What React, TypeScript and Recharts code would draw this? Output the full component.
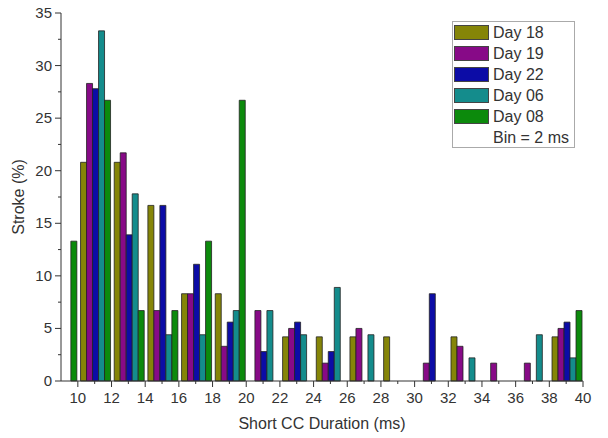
import React from 'react';
import { BarChart, Bar, XAxis, YAxis, Legend, Label } from 'recharts';

// bin centres (ms), bin width = 2 ms
const bins = [9, 11, 13, 15, 17, 19, 21, 23, 25, 27, 29, 31, 33, 35, 37, 39];

const day18 = [0, 20.8, 20.8, 16.7, 8.3, 8.3, 0, 4.2, 4.2, 4.2, 4.2, 0, 4.2, 0, 0, 4.2];
const day19 = [0, 28.3, 21.7, 6.7, 8.3, 3.3, 6.7, 5.0, 1.7, 5.0, 0, 1.7, 3.3, 1.7, 1.7, 5.0];
const day22 = [0, 27.8, 13.9, 16.7, 11.1, 5.6, 2.8, 5.6, 2.8, 0, 0, 8.3, 0, 0, 0, 5.6];
const day06 = [0, 33.3, 17.8, 4.4, 4.4, 6.7, 6.7, 4.4, 8.9, 4.4, 0, 0, 2.2, 0, 4.4, 2.2];
const day08 = [13.3, 26.7, 6.7, 6.7, 13.3, 26.7, 0, 0, 0, 0, 0, 0, 0, 0, 0, 6.7];

const xTicks = [10, 11, 12, 13, 14, 15, 16, 17, 18, 19, 20, 21, 22, 23, 24, 25, 26, 27, 28, 29, 30, 31, 32, 33, 34, 35, 36, 37, 38, 39, 40];
const yTicks = [0, 2.5, 5, 7.5, 10, 12.5, 15, 17.5, 20, 22.5, 25, 27.5, 30, 32.5, 35];

const series = [
  { key: 'd18', name: 'Day 18', values: day18, color: '#858508' },
  { key: 'd19', name: 'Day 19', values: day19, color: '#870a87' },
  { key: 'd22', name: 'Day 22', values: day22, color: '#0c0ca6' },
  { key: 'd06', name: 'Day 06', values: day06, color: '#148c8c' },
  { key: 'd08', name: 'Day 08', values: day08, color: '#0c8a0c' },
];

const data = bins.map((b, i) => {
  const row: Record<string, number> = { bin: b };
  series.forEach((s) => {
    row[s.key] = s.values[i];
  });
  return row;
});

const FONT = '"Liberation Sans", Arial, sans-serif';

const XTick = (props: any) => {
  const { x, y, payload } = props;
  const major = payload.value % 2 === 0;
  return (
    <g>
      <line x1={x} x2={x} y1={y} y2={y + (major ? 6 : 3)} stroke="#333" strokeWidth={1} />
      {major && (
        <text x={x} y={y + 22} textAnchor="middle" fontSize={15} fill="#333" fontFamily={FONT}>
          {payload.value}
        </text>
      )}
    </g>
  );
};

const YTick = (props: any) => {
  const { x, y, payload } = props;
  const major = payload.value % 5 === 0;
  return (
    <g>
      <line x1={x} x2={x - (major ? 6 : 3)} y1={y} y2={y} stroke="#333" strokeWidth={1} />
      {major && (
        <text x={x - 9} y={y + 5} textAnchor="end" fontSize={15} fill="#333" fontFamily={FONT}>
          {payload.value}
        </text>
      )}
    </g>
  );
};

const renderLegend = () => (
  <div
    style={{
      boxSizing: 'border-box',
      border: '1px solid #aaa',
      background: '#fff',
      padding: '0 0 0 1px',
      fontFamily: FONT,
      fontSize: 16,
      color: '#333',
      width: 123,
      height: 127,
      whiteSpace: 'nowrap',
    }}
  >
    {series.map((s) => (
      <div key={s.key} style={{ display: 'flex', alignItems: 'center', height: 21 }}>
        <span
          style={{
            display: 'inline-block',
            boxSizing: 'border-box',
            width: 35,
            height: 15,
            background: s.color,
            border: '1px solid #444',
            marginRight: 4,
          }}
        />
        <span>{s.name}</span>
      </div>
    ))}
    <div style={{ height: 21, display: 'flex', alignItems: 'center', paddingLeft: 39 }}>Bin = 2 ms</div>
  </div>
);

export default function App() {
  return (
    <div style={{ position: 'absolute', left: 0, top: 0, width: 608, height: 438, background: '#fff' }}>
      <BarChart
        width={608}
        height={438}
        data={data}
        margin={{ top: 13, right: 25, left: 0, bottom: 27 }}
        barCategoryGap="8%"
        barGap={0}
      >
        <XAxis
          dataKey="bin"
          type="number"
          domain={[9, 40]}
          ticks={xTicks}
          interval={0}
          allowDataOverflow
          height={30}
          tickSize={0}
          tickMargin={0}
          tick={<XTick />}
          axisLine={{ stroke: '#333' }}
        >
          <Label
            value="Short CC Duration (ms)"
            position="bottom"
            offset={7}
            style={{ fontFamily: FONT, fontSize: 16, fill: '#333' }}
          />
        </XAxis>
        <YAxis
          type="number"
          domain={[0, 35]}
          ticks={yTicks}
          interval={0}
          width={61}
          tickSize={0}
          tickMargin={0}
          tick={<YTick />}
          axisLine={{ stroke: '#333' }}
        >
          <Label
            value="Stroke (%)"
            angle={-90}
            position="insideLeft"
            offset={18}
            style={{ fontFamily: FONT, fontSize: 16, fill: '#333', textAnchor: 'middle' }}
          />
        </YAxis>
        <Legend
          layout="horizontal"
          verticalAlign="middle"
          align="center"
          content={renderLegend}
          wrapperStyle={{ left: 452, top: 21, width: 123, height: 127 }}
        />
        {series.map((s) => (
          <Bar
            key={s.key}
            dataKey={s.key}
            name={s.name}
            fill={s.color}
            stroke="#222"
            strokeWidth={0.8}
            isAnimationActive={false}
          />
        ))}
      </BarChart>
    </div>
  );
}
